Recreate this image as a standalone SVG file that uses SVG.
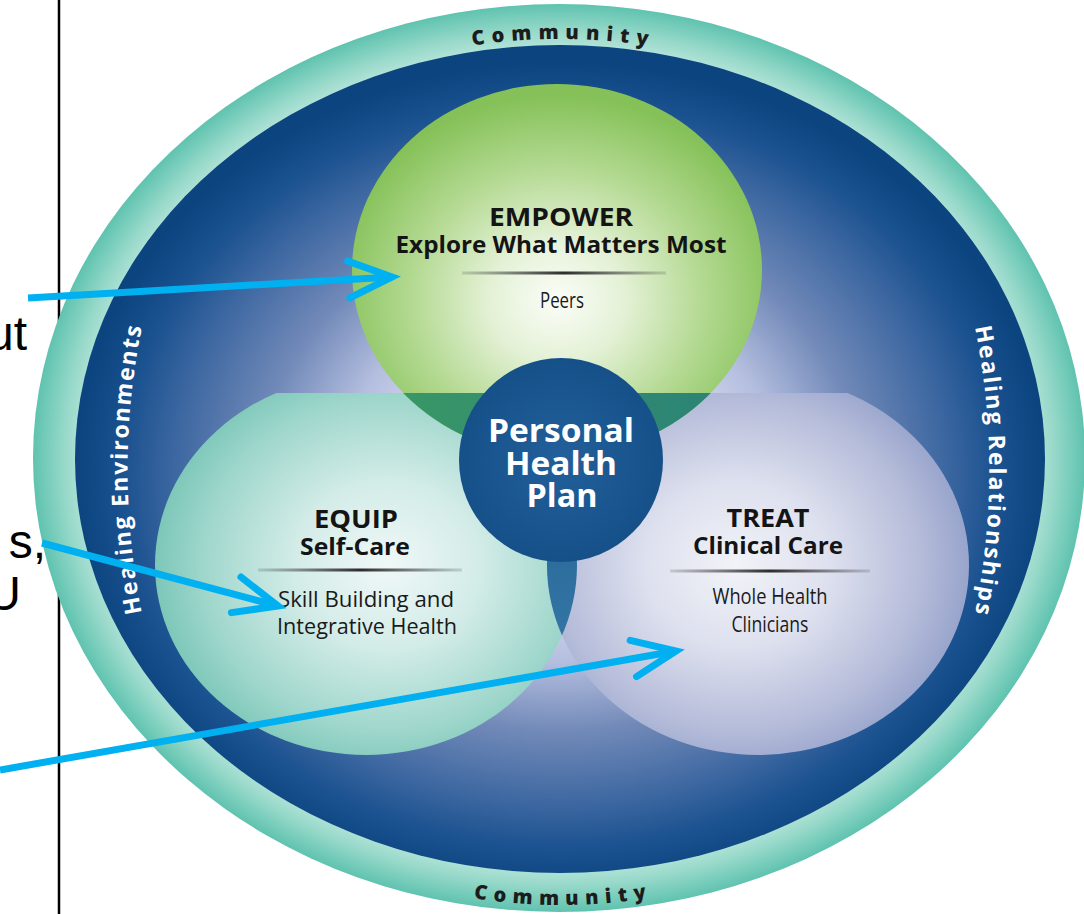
<svg xmlns="http://www.w3.org/2000/svg" width="1084" height="914" viewBox="0 0 1084 914">
  <style>
    .hdr { font-family: "Open Sans", "Noto Sans", sans-serif; font-weight: 700; fill: #141414; text-anchor: middle; }
    .sub { font-family: "Open Sans", "Noto Sans", sans-serif; font-weight: 400; fill: #1a1a1a; text-anchor: middle; }
    .php { font-family: "Open Sans", "Noto Sans", sans-serif; font-weight: 700; fill: #ffffff; text-anchor: middle; font-size: 32px; }
    .side { font-family: "Open Sans", "Noto Sans", sans-serif; font-weight: 700; fill: #ffffff; font-size: 23px; }
    .comm { font-family: "Open Sans", "Noto Sans", sans-serif; font-weight: 800; fill: #1c1c1c; font-size: 20px; }
    .frag { font-family: "Liberation Sans", Arial, sans-serif; fill: #000000; font-size: 48px; }
    .arrow { fill: none; stroke: #00b0f0; stroke-width: 7; }
  </style>
  <defs>
    <radialGradient id="ringGrad" cx="0.5" cy="0.5" r="0.5">
      <stop offset="0.88" stop-color="#c6ece3"/>
      <stop offset="0.94" stop-color="#98d9ca"/>
      <stop offset="1" stop-color="#5fc3af"/>
    </radialGradient>
    <radialGradient id="fieldGrad" cx="0.5" cy="0.52" r="0.5">
      <stop offset="0" stop-color="#f2f3f9"/>
      <stop offset="0.3" stop-color="#d6daee"/>
      <stop offset="0.45" stop-color="#b4bedf"/>
      <stop offset="0.62" stop-color="#7189b8"/>
      <stop offset="0.8" stop-color="#3b66a0"/>
      <stop offset="0.9" stop-color="#1b5290"/>
      <stop offset="1" stop-color="#0b447f"/>
    </radialGradient>
    <radialGradient id="greenGrad" cx="0.5" cy="0.58" r="0.55">
      <stop offset="0" stop-color="#fbfdf8"/>
      <stop offset="0.3" stop-color="#e4f1d6"/>
      <stop offset="0.65" stop-color="#b3d991"/>
      <stop offset="1" stop-color="#85c158"/>
    </radialGradient>
    <linearGradient id="deepGreen" x1="0" y1="0" x2="1" y2="0">
      <stop offset="0" stop-color="#3a9a64"/>
      <stop offset="1" stop-color="#2a8078"/>
    </linearGradient>
    <radialGradient id="tealGrad" cx="0.55" cy="0.5" r="0.55">
      <stop offset="0" stop-color="#eff8f7"/>
      <stop offset="0.4" stop-color="#d3ece8"/>
      <stop offset="0.8" stop-color="#9ed6cb"/>
      <stop offset="1" stop-color="#7cc7b9"/>
    </radialGradient>
    <radialGradient id="lilacGrad" cx="0.45" cy="0.5" r="0.55">
      <stop offset="0" stop-color="#f2f3f8"/>
      <stop offset="0.4" stop-color="#dde0ee"/>
      <stop offset="0.8" stop-color="#b4bbd9"/>
      <stop offset="1" stop-color="#98a4cc"/>
    </radialGradient>
    <linearGradient id="lensGrad" x1="0" y1="0" x2="0" y2="1">
      <stop offset="0" stop-color="#1d5c93"/>
      <stop offset="1" stop-color="#3d80ab"/>
    </linearGradient>
    <radialGradient id="planGrad" cx="0.5" cy="0.5" r="0.5">
      <stop offset="0" stop-color="#23609b"/>
      <stop offset="1" stop-color="#155089"/>
    </radialGradient>
    <linearGradient id="ruleGrad" x1="0" y1="0" x2="1" y2="0">
      <stop offset="0" stop-color="#222" stop-opacity="0.15"/>
      <stop offset="0.5" stop-color="#222" stop-opacity="0.95"/>
      <stop offset="1" stop-color="#222" stop-opacity="0.15"/>
    </linearGradient>
    <clipPath id="lowerBand">
      <rect x="0" y="393" width="1084" height="521"/>
    </clipPath>
    <clipPath id="equipShape">
      <ellipse cx="366" cy="565" rx="211" ry="190"/>
    </clipPath>
    <marker id="chevron" markerUnits="userSpaceOnUse" orient="auto" refX="0" refY="0" markerWidth="1" markerHeight="1" overflow="visible">
      <path d="M -43.3,-18.4 L 0,0 L -43.3,18.4" fill="none" stroke="#00b0f0" stroke-width="7" stroke-linecap="round" stroke-linejoin="miter"/>
    </marker>
    <path id="arcTop" d="M 60,459 A 500 420 0 0 1 1060,459"/>
    <path id="arcBottom" d="M 60,459 A 500 446 0 0 0 1060,459"/>
    <path id="arcLeft" d="M 173,720 A 432 560 0 0 1 173,220"/>
    <path id="arcRight" d="M 944,220 A 430 560 0 0 1 944,720"/>
  </defs>

  <rect width="1084" height="914" fill="#ffffff"/>

  <!-- page text fragments and rule at the left edge -->
  <g id="page-edge">
    <line x1="59" y1="0" x2="59" y2="914" stroke="#000" stroke-width="2.5"/>
    <text class="frag" x="27" y="350" text-anchor="end">ut</text>
    <text class="frag" x="46" y="558" text-anchor="end">s,</text>
    <text class="frag" x="21" y="610" text-anchor="end">U</text>
  </g>

  <!-- community ring and field -->
  <g id="community">
    <ellipse cx="559" cy="458" rx="526" ry="454" fill="url(#ringGrad)"/>
    <ellipse cx="560" cy="459" rx="485" ry="414" fill="url(#fieldGrad)"/>
    <text class="comm"><textPath href="#arcTop" startOffset="50%" text-anchor="middle" textLength="176" lengthAdjust="spacing">Community</textPath></text>
    <text class="comm"><textPath href="#arcBottom" startOffset="50%" text-anchor="middle" textLength="174" lengthAdjust="spacing">Community</textPath></text>
  </g>

  <g id="healing-environments">
    <text class="side"><textPath href="#arcLeft" startOffset="50%" text-anchor="middle" textLength="288" lengthAdjust="spacing">Healing Environments</textPath></text>
  </g>

  <g id="healing-relationships">
    <text class="side"><textPath href="#arcRight" startOffset="50%" text-anchor="middle" textLength="288" lengthAdjust="spacing">Healing Relationships</textPath></text>
  </g>

  <!-- EQUIP -->
  <g id="equip">
    <ellipse cx="366" cy="565" rx="211" ry="190" fill="url(#tealGrad)" clip-path="url(#lowerBand)"/>
  </g>

  <!-- TREAT -->
  <g id="treat">
    <ellipse cx="758" cy="565" rx="211" ry="190" fill="url(#lilacGrad)" clip-path="url(#lowerBand)"/>
    <g clip-path="url(#equipShape)">
      <ellipse cx="758" cy="565" rx="211" ry="190" fill="url(#lensGrad)"/>
    </g>
  </g>

  <!-- EMPOWER -->
  <g id="empower">
    <ellipse cx="557" cy="270" rx="205" ry="186" fill="url(#greenGrad)"/>
    <ellipse cx="557" cy="270" rx="205" ry="186" fill="url(#deepGreen)" clip-path="url(#lowerBand)"/>
    <text class="hdr" x="561" y="226" font-size="25" textLength="144" lengthAdjust="spacingAndGlyphs">EMPOWER</text>
    <text class="hdr" x="561" y="253" font-size="23" textLength="331" lengthAdjust="spacingAndGlyphs">Explore What Matters Most</text>
    <rect x="462" y="271.5" width="204" height="3" fill="url(#ruleGrad)"/>
    <text class="sub" x="562" y="308" font-size="21" textLength="44" lengthAdjust="spacingAndGlyphs">Peers</text>
  </g>

  <g id="equip-labels">
    <text class="hdr" x="356" y="528" font-size="25" textLength="84" lengthAdjust="spacingAndGlyphs">EQUIP</text>
    <text class="hdr" x="355" y="555" font-size="23" textLength="110" lengthAdjust="spacingAndGlyphs">Self-Care</text>
    <rect x="258" y="568.5" width="204" height="3" fill="url(#ruleGrad)"/>
    <text class="sub" x="366" y="607" font-size="21" textLength="176" lengthAdjust="spacingAndGlyphs">Skill Building and</text>
    <text class="sub" x="367" y="634" font-size="21" textLength="180" lengthAdjust="spacingAndGlyphs">Integrative Health</text>
  </g>

  <g id="treat-labels">
    <text class="hdr" x="768" y="527" font-size="25" textLength="83" lengthAdjust="spacingAndGlyphs">TREAT</text>
    <text class="hdr" x="768" y="554" font-size="23" textLength="150" lengthAdjust="spacingAndGlyphs">Clinical Care</text>
    <rect x="670" y="569.5" width="200" height="3" fill="url(#ruleGrad)"/>
    <text class="sub" x="770" y="604" font-size="21" textLength="115" lengthAdjust="spacingAndGlyphs">Whole Health</text>
    <text class="sub" x="770" y="632" font-size="21" textLength="77" lengthAdjust="spacingAndGlyphs">Clinicians</text>
  </g>

  <!-- Personal Health Plan hub -->
  <g id="personal-health-plan">
    <circle cx="561" cy="460" r="102" fill="url(#planGrad)"/>
    <text class="php" x="561" y="442" textLength="146" lengthAdjust="spacingAndGlyphs">Personal</text>
    <text class="php" x="561" y="475" textLength="112" lengthAdjust="spacingAndGlyphs">Health</text>
    <text class="php" x="562" y="507" textLength="71" lengthAdjust="spacingAndGlyphs">Plan</text>
  </g>

  <!-- pointer arrows -->
  <g id="connectors">
    <path class="arrow" d="M 28,298 L 392,277" marker-end="url(#chevron)"/>
    <path class="arrow" d="M 42,543 L 278,606" marker-end="url(#chevron)"/>
    <path class="arrow" d="M 0,770 L 676,651" marker-end="url(#chevron)"/>
  </g>
</svg>
